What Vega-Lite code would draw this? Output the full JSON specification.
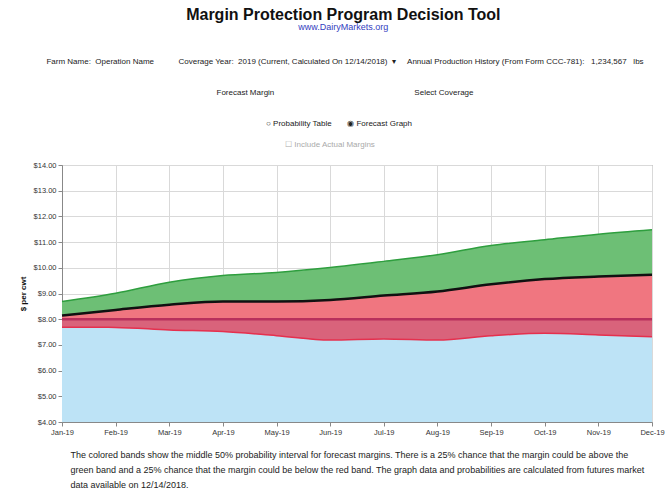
{
  "$schema": "https://vega.github.io/schema/vega-lite/v6.json",
  "background": "white",
  "padding": {"left": 18, "right": 0, "top": 6, "bottom": 2},
  "config": {
    "font": "Liberation Sans Narrow, Liberation Sans, Arial, sans-serif",
    "view": {"stroke": "#8a8a8a"},
    "axisY": {
      "labelOverlap": false, "labelFontSize": 7.5, "labelColor": "#333333", "gridColor": "#d9d9d9",
      "tickSize": 4, "tickColor": "#888888", "domainColor": "#888888",
      "titleFontSize": 8, "titleFontWeight": "bold", "titleColor": "#111111", "titlePadding": 6
    }
  },
  "title": {
    "text": "Margin Protection Program Decision Tool",
    "subtitle": "www.DairyMarkets.org",
    "fontSize": 16,
    "fontWeight": "bold",
    "color": "#111111",
    "subtitleColor": "#3340c0",
    "subtitleFontSize": 9,
    "subtitlePadding": 0,
    "anchor": "middle",
    "offset": 26
  },
  "spacing": 0,
  "vconcat": [
    {
      "width": 590,
      "height": 257,
      "title": {
        "text": [
          "Farm Name:\u00a0\u00a0Operation Name\u00a0\u00a0\u00a0\u00a0\u00a0\u00a0\u00a0\u00a0\u00a0\u00a0\u00a0Coverage Year:\u00a0\u00a02019 (Current, Calculated On 12/14/2018)\u00a0\u00a0▾\u00a0\u00a0\u00a0\u00a0\u00a0Annual Production History (From Form CCC-781):\u00a0\u00a0\u00a01,234,567\u00a0\u00a0\u00a0lbs\u2800\u2800\u2800\u2800",
          "Forecast Margin\u00a0\u00a0\u00a0\u00a0\u00a0\u00a0\u00a0\u00a0\u00a0\u00a0\u00a0\u00a0\u00a0\u00a0\u00a0\u00a0\u00a0\u00a0\u00a0\u00a0\u00a0\u00a0\u00a0\u00a0\u00a0\u00a0\u00a0\u00a0\u00a0\u00a0\u00a0\u00a0\u00a0\u00a0\u00a0\u00a0\u00a0\u00a0\u00a0\u00a0\u00a0\u00a0\u00a0\u00a0\u00a0\u00a0\u00a0\u00a0\u00a0\u00a0\u00a0\u00a0\u00a0\u00a0\u00a0\u00a0\u00a0\u00a0\u00a0\u00a0\u00a0\u00a0\u00a0Select Coverage\u2800\u2800\u2800\u2800",
          "○ Probability Table\u00a0\u00a0\u00a0\u00a0\u00a0\u00a0\u00a0◉ Forecast Graph\u2800\u2800\u2800\u2800\u2800\u2800"
        ],
        "subtitle": "☐ Include Actual Margins\u2800\u2800\u2800\u2800\u2800\u2800\u2800\u2800\u2800",
        "fontSize": 8,
        "fontWeight": "normal",
        "color": "#222222",
        "lineHeight": 31,
        "subtitleColor": "#aaaaaa",
        "subtitleFontSize": 8,
        "subtitlePadding": 13,
        "anchor": "middle",
        "frame": "group",
        "offset": 12
      },
      "data": {
        "values": [
          {"month": "Jan-19", "low": 7.69, "median": 8.14, "high": 8.69},
          {"month": "Feb-19", "low": 7.68, "median": 8.36, "high": 9.01},
          {"month": "Mar-19", "low": 7.58, "median": 8.56, "high": 9.44},
          {"month": "Apr-19", "low": 7.52, "median": 8.69, "high": 9.70},
          {"month": "May-19", "low": 7.36, "median": 8.69, "high": 9.82},
          {"month": "Jun-19", "low": 7.19, "median": 8.75, "high": 10.01},
          {"month": "Jul-19", "low": 7.23, "median": 8.92, "high": 10.25},
          {"month": "Aug-19", "low": 7.19, "median": 9.08, "high": 10.51},
          {"month": "Sep-19", "low": 7.36, "median": 9.36, "high": 10.87},
          {"month": "Oct-19", "low": 7.45, "median": 9.56, "high": 11.09},
          {"month": "Nov-19", "low": 7.39, "median": 9.66, "high": 11.31},
          {"month": "Dec-19", "low": 7.32, "median": 9.73, "high": 11.48}
        ]
      },
      "resolve": {"axis": {"y": "independent"}},
      "layer": [
        {
          "mark": {"type": "area", "color": "#bde3f6", "interpolate": "monotone"},
          "encoding": {
            "x": {
              "field": "month", "type": "ordinal", "sort": null,
              "scale": {"type": "point", "padding": 0},
              "axis": {
                "grid": true, "gridColor": "#d9d9d9", "labelAngle": 0, "labelFontSize": 7.5,
                "labelColor": "#333333", "tickSize": 4, "tickColor": "#888888", "domainColor": "#888888",
                "title": [
                  "The colored bands show the middle 50% probability interval for forecast margins. There is a 25% chance that the margin could be above the",
                  "green band and a 25% chance that the margin could be below the red band. The graph data and probabilities are calculated from futures market",
                  "data available on 12/14/2018."
                ],
                "titleAnchor": "start", "titleAlign": "left", "titleFontSize": 9, "titleFontWeight": "normal",
                "titleColor": "#222222", "titleLineHeight": 15, "titlePadding": 15, "titleX": 8
              }
            },
            "y": {
              "field": "low", "type": "quantitative", "title": "$ per cwt",
              "scale": {"domain": [4, 14], "nice": false, "zero": false},
              "axis": {"values": [4, 5, 6, 7, 8, 9, 10, 11, 12, 13, 14], "tickCount": 20, "format": "$.2f"}
            },
            "y2": {"datum": 4}
          }
        },
        {
          "mark": {"type": "area", "color": "#f07680", "interpolate": "monotone"},
          "encoding": {
            "x": {"field": "month", "type": "ordinal", "sort": null},
            "y": {"field": "low", "type": "quantitative", "axis": null},
            "y2": {"field": "median"}
          }
        },
        {
          "mark": {"type": "area", "color": "#d9637b", "interpolate": "monotone"},
          "encoding": {
            "x": {"field": "month", "type": "ordinal", "sort": null},
            "y": {"field": "low", "type": "quantitative", "axis": null},
            "y2": {"datum": 8}
          }
        },
        {
          "mark": {"type": "area", "color": "#6dbf75", "interpolate": "monotone"},
          "encoding": {
            "x": {"field": "month", "type": "ordinal", "sort": null},
            "y": {"field": "median", "type": "quantitative", "axis": null},
            "y2": {"field": "high"}
          }
        },
        {
          "mark": {"type": "line", "color": "#2e9e3e", "strokeWidth": 1.5, "interpolate": "monotone"},
          "encoding": {
            "x": {"field": "month", "type": "ordinal", "sort": null},
            "y": {"field": "high", "type": "quantitative", "axis": null}
          }
        },
        {
          "mark": {"type": "line", "color": "#e5304e", "strokeWidth": 1.5, "interpolate": "monotone"},
          "encoding": {
            "x": {"field": "month", "type": "ordinal", "sort": null},
            "y": {"field": "low", "type": "quantitative", "axis": null}
          }
        },
        {
          "mark": {"type": "line", "color": "#b8305c", "strokeWidth": 2.5},
          "encoding": {
            "x": {"field": "month", "type": "ordinal", "sort": null},
            "y": {"datum": 8, "type": "quantitative", "axis": null}
          }
        },
        {
          "mark": {"type": "line", "color": "#111111", "strokeWidth": 2.5, "interpolate": "monotone"},
          "encoding": {
            "x": {"field": "month", "type": "ordinal", "sort": null},
            "y": {"field": "median", "type": "quantitative", "axis": null}
          }
        }
      ]
    }
  ]
}
